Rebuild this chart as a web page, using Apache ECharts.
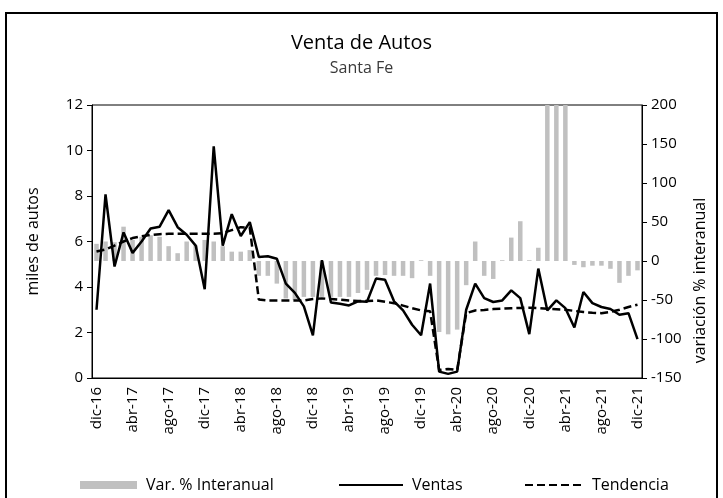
<!DOCTYPE html>
<html>
<head>
<meta charset="utf-8">
<title>Venta de Autos - Santa Fe</title>
<script src="https://cdn.jsdelivr.net/npm/echarts@6/dist/echarts.min.js"></script>
<style>
  html, body { margin: 0; padding: 0; background: #fff; }
  #chart { width: 723px; height: 498px; }
</style>
</head>
<body>
<div id="chart"></div>
<script>
// Monthly categories, dic-16 .. dic-21
const months = [
  'dic-16',
  'ene-17','feb-17','mar-17','abr-17','may-17','jun-17','jul-17','ago-17','sep-17','oct-17','nov-17','dic-17',
  'ene-18','feb-18','mar-18','abr-18','may-18','jun-18','jul-18','ago-18','sep-18','oct-18','nov-18','dic-18',
  'ene-19','feb-19','mar-19','abr-19','may-19','jun-19','jul-19','ago-19','sep-19','oct-19','nov-19','dic-19',
  'ene-20','feb-20','mar-20','abr-20','may-20','jun-20','jul-20','ago-20','sep-20','oct-20','nov-20','dic-20',
  'ene-21','feb-21','mar-21','abr-21','may-21','jun-21','jul-21','ago-21','sep-21','oct-21','nov-21','dic-21'
];

// Ventas (miles de autos)
const ventas = [
  3.0, 8.07, 4.9, 6.4, 5.5, 6.0, 6.57, 6.65, 7.38, 6.63,
  6.3, 5.82, 3.9, 10.18, 5.82, 7.2, 6.24, 6.85, 5.32, 5.35,
  5.24, 4.15, 3.74, 3.15, 1.87, 5.18, 3.32, 3.26, 3.19, 3.37,
  3.35, 4.37, 4.32, 3.37, 2.97, 2.34, 1.88, 4.15, 0.28, 0.18,
  0.28, 3.0, 4.15, 3.51, 3.34, 3.41, 3.85, 3.51, 1.93, 4.81,
  2.97, 3.41, 3.07, 2.22, 3.78, 3.29, 3.12, 3.03, 2.78, 2.85, 1.71
];

// Tendencia (miles de autos)
const tendencia = [
  5.56, 5.65, 5.82, 6.0, 6.15, 6.23, 6.29, 6.32, 6.34, 6.34,
  6.34, 6.34, 6.34, 6.34, 6.37, 6.5, 6.63, 6.6, 3.45, 3.41,
  3.41, 3.41, 3.41, 3.41, 3.47, 3.5, 3.47, 3.44, 3.41, 3.38,
  3.38, 3.41, 3.35, 3.29, 3.18, 3.07, 2.97, 2.93, 0.35, 0.4,
  0.35, 2.85, 2.97, 2.99, 3.03, 3.05, 3.07, 3.08, 3.09, 3.07,
  3.04, 3.02, 3.0, 2.95, 2.9, 2.87, 2.85, 2.91, 3.0, 3.12, 3.22
];

// Variación % interanual
const variacion = [
  22, 25, 24, 44, 27, 31, 33, 31, 19, 10,
  25, 20, 27, 25, 19, 12, 12, 14, -19, -19,
  -29, -48, -50, -46, -46, -46, -46, -46, -46, -41,
  -37, -19, -18, -19, -19, -22, 1, -19, -91, -94,
  -88, -31, 25, -19, -23, 1, 30, 51, 1, 17,
  960, 1790, 1000, -5, -8, -6, -6, -10, -28, -19, -12
];

const FONT = 'Open Sans';
const TICK_SIZE = 15;
const chart = echarts.init(document.getElementById('chart'), null, { renderer: 'canvas' });

const legendText = { fontFamily: FONT, fontSize: 16, color: '#000', padding: [0, 0, 0, 4] };

chart.setOption({
  animation: false,
  backgroundColor: '#fff',
  textStyle: { fontFamily: FONT },
  title: {
    text: 'Venta de Autos',
    subtext: 'Santa Fe',
    left: 'center',
    top: 28,
    itemGap: 7,
    textStyle: { fontFamily: FONT, fontSize: 20, fontWeight: 'normal', color: '#000' },
    subtextStyle: { fontFamily: FONT, fontSize: 16, color: '#3a3a3a' }
  },
  graphic: [{
    type: 'rect',
    shape: { x: 6, y: 13, width: 711, height: 500 },
    style: { fill: 'none', stroke: '#000', lineWidth: 2 },
    silent: true
  }],
  legend: [
    {
      data: ['Var. % Interanual'], left: 80, top: 477, padding: 0,
      icon: 'rect', itemWidth: 57, itemHeight: 8,
      textStyle: legendText
    },
    {
      data: ['Ventas'], left: 338, top: 477, padding: 0,
      itemWidth: 64, itemHeight: 12,
      itemStyle: { opacity: 0 },
      textStyle: legendText
    },
    {
      data: ['Tendencia'], left: 524, top: 477, padding: 0,
      itemWidth: 58, itemHeight: 12,
      itemStyle: { opacity: 0 },
      textStyle: legendText
    }
  ],
  grid: {
    left: 92, right: 81, top: 105, bottom: 120,
    show: true, borderColor: '#000', borderWidth: 1,
    containLabel: false
  },
  xAxis: {
    type: 'category',
    data: months,
    boundaryGap: true,
    axisLine: { lineStyle: { color: '#000', width: 1 } },
    axisTick: { interval: 3, length: 5, lineStyle: { color: '#000' } },
    axisLabel: { interval: 3, rotate: 90, fontSize: TICK_SIZE, color: '#000', margin: 9, fontFamily: FONT },
    splitLine: { show: false }
  },
  yAxis: [
    {
      type: 'value', min: 0, max: 12, interval: 2,
      name: 'miles de autos', nameLocation: 'middle', nameGap: 51, nameRotate: 90,
      nameTextStyle: { fontFamily: FONT, fontSize: 16, color: '#000' },
      axisLine: { show: true, lineStyle: { color: '#000' } },
      axisTick: { show: true, length: 5, lineStyle: { color: '#000' } },
      axisLabel: { fontSize: TICK_SIZE, color: '#000', margin: 9, fontFamily: FONT },
      splitLine: { show: false }
    },
    {
      type: 'value', min: -150, max: 200, interval: 50, position: 'right',
      name: 'variación % interanual', nameLocation: 'middle', nameGap: 50, nameRotate: 90,
      nameTextStyle: { fontFamily: FONT, fontSize: 16, color: '#000', padding: [0, 78, 0, 0] },
      axisLine: { show: true, lineStyle: { color: '#000' } },
      axisTick: { show: true, length: 5, lineStyle: { color: '#000' } },
      axisLabel: { fontSize: TICK_SIZE, color: '#000', margin: 9, fontFamily: FONT },
      splitLine: { show: false }
    }
  ],
  series: [
    {
      name: 'Var. % Interanual', type: 'bar', yAxisIndex: 1,
      data: variacion, barWidth: '50%', clip: true,
      itemStyle: { color: '#c0c0c0' }, z: 1
    },
    {
      name: 'Ventas', type: 'line', yAxisIndex: 0,
      data: ventas, symbol: 'none', clip: true,
      lineStyle: { color: '#000', width: 2.5 }, itemStyle: { color: '#000' }, z: 3
    },
    {
      name: 'Tendencia', type: 'line', yAxisIndex: 0,
      data: tendencia, symbol: 'none', clip: true,
      lineStyle: { color: '#000', width: 2.5, type: [8, 4] }, itemStyle: { color: '#000' }, z: 2
    }
  ]
});
</script>
</body>
</html>
